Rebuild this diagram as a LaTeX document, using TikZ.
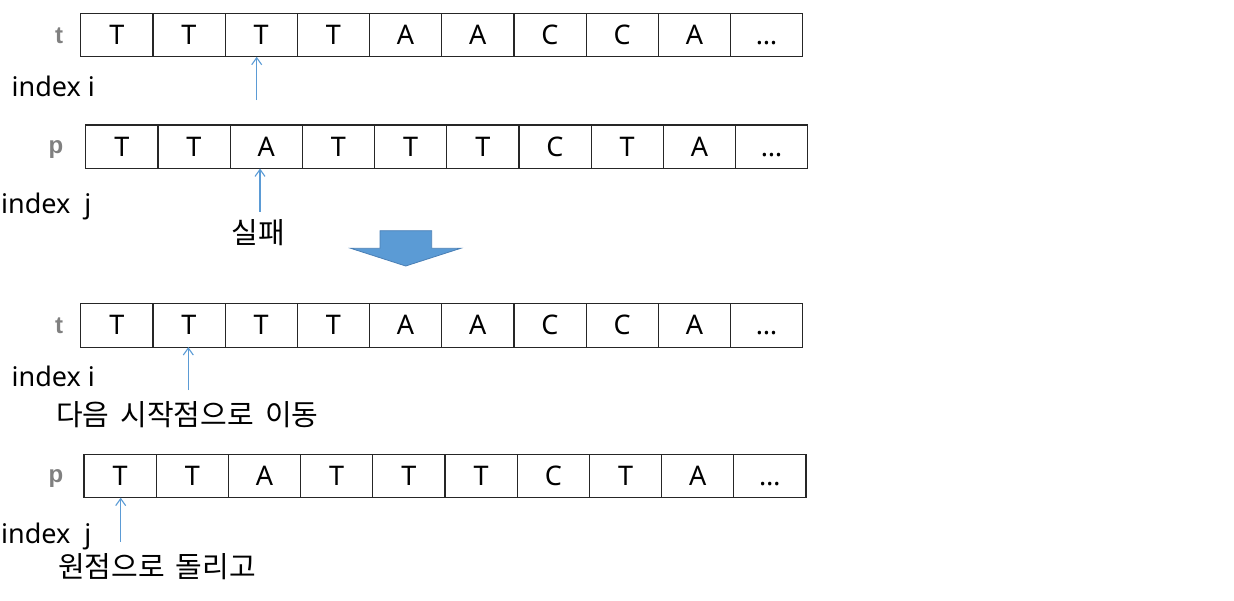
\documentclass[tikz,border=0pt]{standalone}
\usepackage{fontspec}
\setmainfont{Noto Sans}
\newfontfamily\kr[WordSpace=1.7]{Noto Sans CJK KR}
\newfontfamily\lblfont{Liberation Sans}
\usetikzlibrary{arrows.meta}
\definecolor{ptr}{HTML}{5B9BD5}
\definecolor{bigfill}{HTML}{5B9BD5}
\definecolor{bigline}{HTML}{4A7FB5}
\definecolor{lblgray}{HTML}{808080}
\definecolor{celline}{HTML}{262626}
\tikzset{
  cell/.style={draw=celline, line width=1.2pt, minimum width=72.2pt, minimum height=43.6pt,
    inner sep=0pt, outer sep=0pt, anchor=west, font=\fontsize{27}{30}\selectfont,
    text height=19.3pt, text depth=0pt},
  rowlbl/.style={inner sep=0pt, anchor=base, text=lblgray, font=\fontsize{24}{28}\selectfont\lblfont\bfseries},
  idxlbl/.style={inner sep=0pt, anchor=base west, font=\fontsize{27}{30}\selectfont},
  krlbl/.style={inner sep=0pt, font=\fontsize{29}{32}\selectfont\kr},
  ptrarrow/.style={draw=ptr, line width=1.2pt, -{Straight Barb[length=7pt,width=10pt,line width=1.1pt]}},
}
\begin{document}
\begin{tikzpicture}[x=1pt,y=-1pt]
\useasboundingbox (0,0) rectangle (1234,600);
% row a: t (top)
\foreach \l [count=\k] in {T,T,T,T,A,A,C,C,A,…}
  \node[cell] (a\k) at ({80.7+(\k-1)*72.2},35) {\l};
% row b: p (top)
\foreach \l [count=\k] in {T,T,A,T,T,T,C,T,A,…}
  \node[cell] (b\k) at ({85.7+(\k-1)*72.2},146.7) {\l};
% row c: t (bottom)
\foreach \l [count=\k] in {T,T,T,T,A,A,C,C,A,…}
  \node[cell] (c\k) at ({80.7+(\k-1)*72.2},325.3) {\l};
% row d: p (bottom)
\foreach \l [count=\k] in {T,T,A,T,T,T,C,T,A,…}
  \node[cell] (d\k) at ({84+(\k-1)*72.2},475.9) {\l};

% row labels
\node[rowlbl] (tl1) at (59,43) {t};
\node[rowlbl] (pl1) at (56,153) {p};
\node[rowlbl] (tl2) at (59,333) {t};
\node[rowlbl] (pl2) at (56,482) {p};

% index labels
\node[idxlbl] (ii1) at (11.5,96.7) {index i};
\node[idxlbl] (jj1) at (1,213) {index~~j};
\node[idxlbl] (ii2) at (11.5,386.7) {index i};
\node[idxlbl] (jj2) at (1,543) {index~~j};

% Korean labels
\node[krlbl, anchor=center] (fail) at (258,233) {실패};
\node[krlbl, anchor=west] (next) at (56,415) {다음 시작점으로 이동};
\node[krlbl, anchor=west] (orig) at (58,567) {원점으로 돌리고};

% pointer arrows
\coordinate (pa) at (256.7,100);
\draw[ptrarrow] (pa) -- (pa |- a3.south);
\coordinate (pb) at (260,211.7);
\draw[ptrarrow] (pb) -- (pb |- b3.south);
\coordinate (pc) at (188.3,390);
\draw[ptrarrow] (pc) -- (pc |- c2.south);
\coordinate (pd) at (120.7,541.7);
\draw[ptrarrow] (pd) -- (pd |- d1.south);

% big block arrow
\filldraw[fill=bigfill, draw=bigline, line width=0.8pt]
  (380,230.7) -- (431.7,230.7) -- (431.7,248.3) -- (460.7,248.3)
  -- (405.7,266) -- (350.7,248.3) -- (380,248.3) -- cycle;
\end{tikzpicture}
\end{document}
